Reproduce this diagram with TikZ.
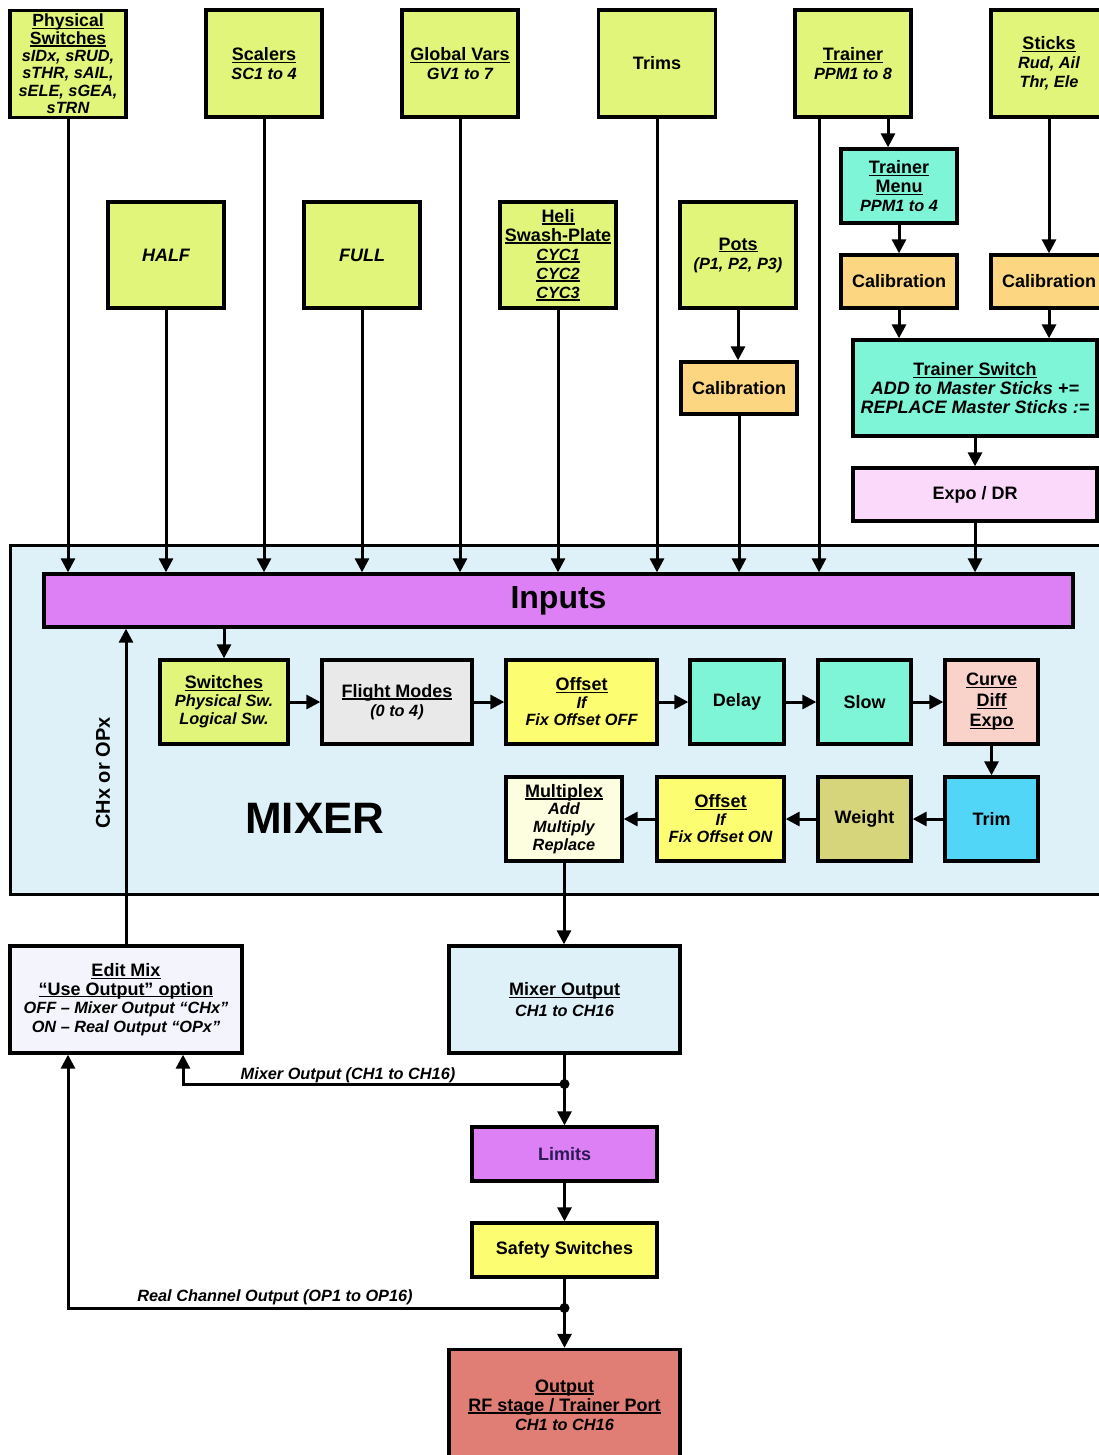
\documentclass[tikz,border=0pt]{standalone}
\usepackage{fontspec}
\setmainfont{Liberation Sans}
\usetikzlibrary{arrows.meta}
\definecolor{cLime}{HTML}{E0F57A}
\definecolor{cAqua}{HTML}{7DF5D6}
\definecolor{cCal}{HTML}{FCD680}
\definecolor{cExpo}{HTML}{FAD9FA}
\definecolor{cMix}{HTML}{DEF1F8}
\definecolor{cViolet}{HTML}{DD80F5}
\definecolor{cGray}{HTML}{E9E9E9}
\definecolor{cYellow}{HTML}{FDFD72}
\definecolor{cCurve}{HTML}{F9D3C9}
\definecolor{cMux}{HTML}{FDFDE0}
\definecolor{cWeight}{HTML}{D6D57C}
\definecolor{cTrim}{HTML}{52D6F8}
\definecolor{cEdit}{HTML}{F4F4FD}
\definecolor{cOut}{HTML}{E07E76}
\definecolor{cLimTxt}{HTML}{2B1A55}
\newlength\myulw
\newcommand\myul[1]{\settowidth\myulw{#1}\rlap{\rule[-2.4pt]{\myulw}{1.3pt}}#1}
\newcommand\sub[1]{{\itshape\fontsize{16.3}{19}\selectfont #1}}
\newcommand\subs[1]{{\itshape\fontsize{16.3}{18}\selectfont #1}}
\tikzset{
  x=1pt, y=-1pt,
  blk/.style={draw, line width=3.3pt, align=center, inner sep=0pt},
  topf/.style={font=\bfseries\fontsize{18}{19}\selectfont},
  botf/.style={font=\bfseries\fontsize{18}{18.5}\selectfont},
  conn/.style={line width=3pt, -{Triangle[length=14pt,width=14pt]}},
  ln/.style={line width=3pt},
  elab/.style={font=\bfseries\itshape\fontsize{16.3}{18}\selectfont, inner sep=1pt},
}
\begin{document}
\begin{tikzpicture}
\useasboundingbox (0,0) rectangle (1099,1455);
\fill[white] (0,0) rectangle (1099,1455);
\clip (0,0) rectangle (1099,1455);
% mixer background
\draw[ln, fill=cMix] (10,545) rectangle (1120,894);
% top row
\node[blk, fill=cLime, minimum width=116pt, minimum height=107pt, font=\bfseries\fontsize{17.6}{17.4}\selectfont] (phys) at (68,64)
  {\myul{Physical}\\\myul{Switches}\\\sub{sIDx, sRUD,}\\\sub{sTHR, sAIL,}\\\sub{sELE, sGEA,}\\\sub{sTRN}};
\node[blk, topf, fill=cLime, minimum width=116pt, minimum height=107pt] (scal) at (264,63.5) {\myul{Scalers}\\\sub{SC1 to 4}};
\node[blk, topf, fill=cLime, minimum width=116pt, minimum height=107pt] (gvar) at (460,63.5) {\myul{Global Vars}\\\sub{GV1 to 7}};
\node[blk, topf, fill=cLime, minimum width=117pt, minimum height=107pt] (trims) at (657,63.5) {Trims};
\node[blk, topf, fill=cLime, minimum width=116pt, minimum height=107pt] (trainer) at (853,63.5) {\myul{Trainer}\\\sub{PPM1 to 8}};
\node[blk, topf, fill=cLime, minimum width=116pt, minimum height=107pt] (sticks) at (1049,63.5) {\myul{Sticks}\\\sub{Rud, Ail}\\\sub{Thr, Ele}};
% second row
\node[blk, topf, fill=cLime, minimum width=116pt, minimum height=106pt] (half) at (166,255) {\itshape HALF};
\node[blk, topf, fill=cLime, minimum width=116pt, minimum height=106pt] (full) at (362,255) {\itshape FULL};
\node[blk, topf, fill=cLime, minimum width=116pt, minimum height=106pt] (heli) at (558,255)
  {\myul{Heli}\\\myul{Swash-Plate}\\\myul{\sub{CYC1}}\\\myul{\sub{CYC2}}\\\myul{\sub{CYC3}}};
\node[blk, topf, fill=cLime, minimum width=116pt, minimum height=106pt] (pots) at (738,255) {\myul{Pots}\\\sub{(P1, P2, P3)}};
\node[blk, topf, fill=cAqua, minimum width=116pt, minimum height=74pt] (tmenu) at (899,186) {\myul{Trainer}\\\myul{Menu}\\\sub{PPM1 to 4}};
\node[blk, topf, fill=cCal, minimum width=116pt, minimum height=53pt] (calT) at (899,281.5) {Calibration};
\node[blk, topf, fill=cCal, minimum width=116pt, minimum height=53pt] (calS) at (1049,281.5) {Calibration};
\node[blk, topf, fill=cCal, minimum width=116pt, minimum height=52pt] (calP) at (739,388) {Calibration};
\node[blk, fill=cAqua, minimum width=244pt, minimum height=96pt, font=\bfseries\fontsize{18}{19}\selectfont] (trsw) at (975,388)
  {\myul{Trainer Switch}\\{\itshape ADD to Master Sticks +=}\\{\itshape REPLACE Master Sticks :=}};
\node[blk, fill=cExpo, minimum width=244pt, minimum height=53pt, font=\bfseries\fontsize{18}{20}\selectfont] (expo) at (975,494.5) {Expo / DR};
% inputs bar
\node[blk, fill=cViolet, minimum width=1029pt, minimum height=53pt, font=\bfseries\fontsize{32}{34}\selectfont] (inputs) at (558.5,600.5) {Inputs};
% mixer row 1
\node[blk, fill=cLime, minimum width=128pt, minimum height=84pt, font=\bfseries\fontsize{18}{18}\selectfont] (sw) at (224,702) {\myul{Switches}\\\sub{Physical Sw.}\\\sub{Logical Sw.}};
\node[blk, topf, fill=cGray, minimum width=150pt, minimum height=84pt] (fm) at (397,702) {\myul{Flight Modes}\\\sub{(0 to 4)}};
\node[blk, fill=cYellow, minimum width=151pt, minimum height=84pt, font=\bfseries\fontsize{18}{17.5}\selectfont] (off1) at (581.5,702) {\myul{Offset}\\\sub{If}\\\sub{Fix Offset OFF}};
\node[blk, topf, fill=cAqua, minimum width=94pt, minimum height=84pt] (delay) at (737,702) {Delay};
\node[blk, topf, fill=cAqua, minimum width=93pt, minimum height=84pt] (slow) at (864.5,702) {Slow};
\node[blk, fill=cCurve, minimum width=93pt, minimum height=84pt, font=\bfseries\fontsize{18}{20.5}\selectfont] (curve) at (991.5,702) {\myul{Curve}\\\myul{Diff}\\\myul{Expo}};
% mixer row 2
\node[blk, fill=cMux, minimum width=116pt, minimum height=84pt, font=\bfseries\fontsize{18}{17.7}\selectfont] (mux) at (564,819) {\myul{Multiplex}\\\sub{Add}\\\sub{Multiply}\\\sub{Replace}};
\node[blk, fill=cYellow, minimum width=127pt, minimum height=84pt, font=\bfseries\fontsize{18}{17.5}\selectfont] (off2) at (720.5,819) {\myul{Offset}\\\sub{If}\\\sub{Fix Offset ON}};
\node[blk, topf, fill=cWeight, minimum width=93pt, minimum height=84pt] (weight) at (864.5,819) {Weight};
\node[blk, topf, fill=cTrim, minimum width=93pt, minimum height=84pt] (trim) at (991.5,819) {Trim};
% mixer labels
\node[font=\bfseries\fontsize{44}{46}\selectfont, inner sep=0pt] (mixlbl) at (315,818) {MIXER};
\node[font=\bfseries\fontsize{20}{22}\selectfont, rotate=90, inner sep=0pt] (chlbl) at (103,773) {CHx or OPx};
% bottom
\node[blk, botf, fill=cEdit, minimum width=232pt, minimum height=107pt] (editmix) at (126,999.5)
  {\myul{Edit Mix}\\\myul{“Use Output” option}\\\subs{OFF – Mixer Output “CHx”}\\\subs{ON – Real Output “OPx”}};
\node[blk, fill=cMix, minimum width=231pt, minimum height=107pt, font=\bfseries\fontsize{18}{21}\selectfont] (mixout) at (564.5,999.5) {\myul{Mixer Output}\\\subs{CH1 to CH16}};
\node[blk, botf, fill=cViolet, text=cLimTxt, minimum width=185pt, minimum height=54pt] (limits) at (564.5,1154) {Limits};
\node[blk, botf, fill=cYellow, minimum width=185pt, minimum height=54pt] (safety) at (564.5,1250) {Safety Switches};
\node[blk, fill=cOut, minimum width=231pt, minimum height=111pt, font=\bfseries\fontsize{18}{19}\selectfont] (output) at (564.5,1405)
  {\myul{Output}\\\myul{RF stage / Trainer Port}\\\subs{CH1 to CH16}};
% connectors: top row to inputs
\foreach \n in {phys,scal,gvar,trims,half,full,heli,calP,expo}
  \draw[conn] (\n.south) -- (\n.south |- inputs.north);
\draw[conn] ([xshift=-34pt]trainer.south) -- ([xshift=-34pt]trainer.south |- inputs.north);
\draw[conn] ([xshift=35pt]trainer.south) -- ([xshift=35pt]trainer.south |- tmenu.north);
\draw[conn] (tmenu.south) -- (calT.north);
\draw[conn] (sticks.south) -- (calS.north);
\draw[conn] (calT.south) -- (calT.south |- trsw.north);
\draw[conn] (calS.south) -- (calS.south |- trsw.north);
\draw[conn] (trsw.south) -- (expo.north);
\draw[conn] (pots.south) -- (pots.south |- calP.north);
% mixer chain
\draw[conn] (sw.north |- inputs.south) -- (sw.north);
\draw[conn] (sw.east) -- (fm.west);
\draw[conn] (fm.east) -- (off1.west);
\draw[conn] (off1.east) -- (delay.west);
\draw[conn] (delay.east) -- (slow.west);
\draw[conn] (slow.east) -- (curve.west);
\draw[conn] (curve.south) -- (trim.north);
\draw[conn] (trim.west) -- (weight.east);
\draw[conn] (weight.west) -- (off2.east);
\draw[conn] (off2.west) -- (mux.east);
\draw[conn] (mux.south) -- (mux.south |- mixout.north);
\draw[conn] (editmix.north) -- (editmix.north |- inputs.south);
% outputs
\coordinate (j1) at (564.5,1084);
\coordinate (j2) at (564.5,1308);
\draw[conn] (mixout.south) -- (limits.north);
\draw[conn] (limits.south) -- (safety.north);
\draw[conn] (safety.south) -- (output.north);
\draw[conn] (j1) -| ([xshift=57pt]editmix.south);
\draw[conn] (j2) -| ([xshift=-58pt]editmix.south);
\fill (j1) circle (5pt);
\fill (j2) circle (5pt);
\node[elab, anchor=base] (lab1) at (348,1079) {Mixer Output (CH1 to CH16)};
\node[elab, anchor=base] (lab2) at (275,1301) {Real Channel Output (OP1 to OP16)};
\end{tikzpicture}
\end{document}
